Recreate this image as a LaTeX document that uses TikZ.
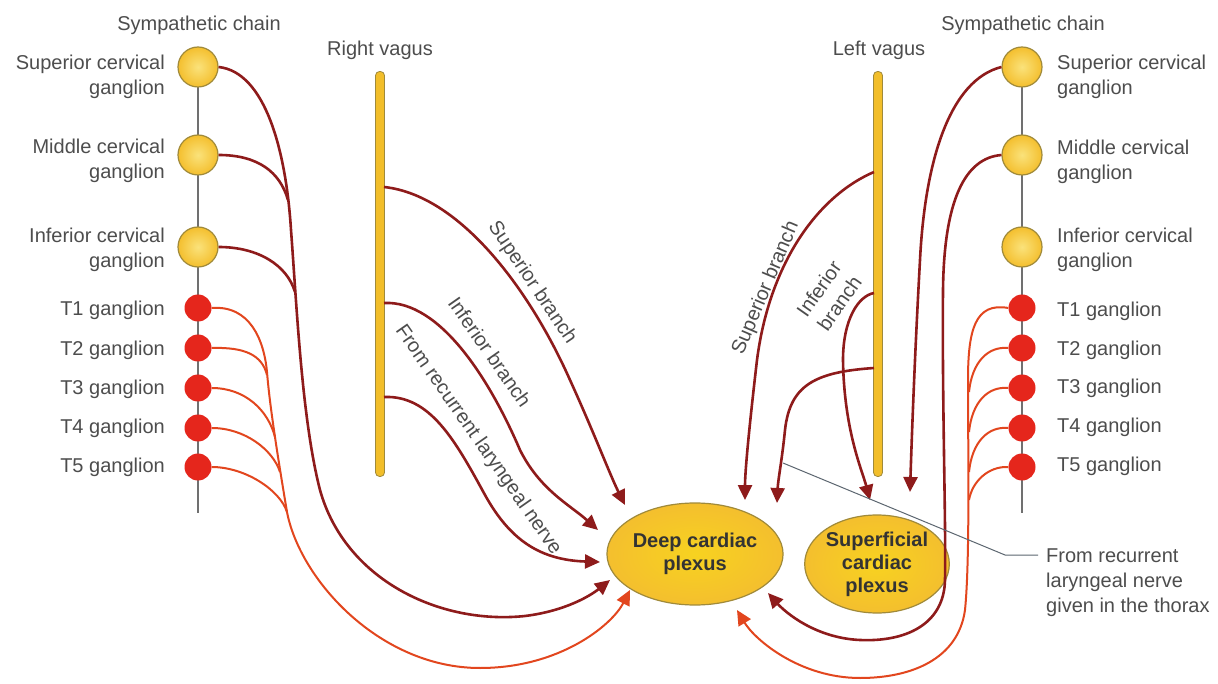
\documentclass[tikz,border=0pt]{standalone}
\usepackage{fontspec}
\setmainfont{Liberation Sans}
\usetikzlibrary{shapes.geometric,arrows.meta}
\definecolor{nerve}{HTML}{8E1B1B}
\definecolor{thnerve}{HTML}{E2461E}
\definecolor{gangfill}{HTML}{F4BF2E}
\definecolor{gangedge}{HTML}{A08A3A}
\definecolor{tgfill}{HTML}{E5261C}
\definecolor{labelgray}{HTML}{4D4D4D}
\definecolor{chaingray}{HTML}{707070}
\definecolor{vagusfill}{HTML}{F2BE2A}
\definecolor{leadergray}{HTML}{5C6670}

\begin{document}
\begin{tikzpicture}[x=1pt, y=-1pt,
  lbl/.style={font=\fontsize{20}{25}\selectfont, text=labelgray, inner sep=0pt},
  cgang/.style={circle, minimum size=40pt, inner sep=0pt, draw=gangedge, line width=1.2pt,
    inner color=yellow!25!gangfill!60!white, outer color=gangfill},
  tgang/.style={circle, minimum size=27pt, inner sep=0pt, fill=tgfill},
  plexus/.style={ellipse, draw=gangedge, line width=1.2pt, inner sep=0pt, align=center,
    inner color=gangfill!70!yellow, outer color=gangfill,
    font=\bfseries\fontsize{20}{23}\selectfont, text=black!80},
  vagus/.style={rectangle, rounded corners=4pt, draw=gangedge, line width=0.8pt,
    fill=vagusfill, minimum width=9pt, minimum height=405pt, inner sep=0pt},
  chain/.style={draw=chaingray, line width=2.5pt},
  nrv/.style={draw=nerve, line width=2.6pt},
  thn/.style={draw=thnerve, line width=2pt},
  arr/.style={-{Triangle[length=15pt,width=14pt]}},
  leader/.style={draw=leadergray, line width=1pt}]
\path[use as bounding box, fill=white] (0,0) rectangle (1218,684);

% chains
\coordinate (lchtop) at (198,67);
\coordinate (lchbot) at (198,513);
\coordinate (rchtop) at (1022,67);
\coordinate (rchbot) at (1022,513);
\draw[chain] (lchtop) -- (lchbot);
\draw[chain] (rchtop) -- (rchbot);

\node[lbl] (lsymp) at (199,25) {Sympathetic chain};
\node[lbl] (rsymp) at (1023,25) {Sympathetic chain};
\node[lbl] (rvag) at (380,50) {Right vagus};
\node[lbl] (lvag) at (879,50) {Left vagus};

% left ganglia
\node[cgang] (lsc) at (198,67) {};
\node[cgang] (lmc) at (198,155) {};
\node[cgang] (lic) at (198,247) {};
\node[tgang] (lt1) at (198,308) {};
\node[tgang] (lt2) at (198,348) {};
\node[tgang] (lt3) at (198,388) {};
\node[tgang] (lt4) at (198,428) {};
\node[tgang] (lt5) at (198,467) {};
\node[lbl, anchor=east, align=right] (lsctxt) at (165,77) {Superior cervical\\ganglion};
\node[lbl, anchor=east, align=right] (lmctxt) at (165,161) {Middle cervical\\ganglion};
\node[lbl, anchor=east, align=right] (lictxt) at (165,250) {Inferior cervical\\ganglion};
\node[lbl, anchor=east] (lt1txt) at (165,310) {T1 ganglion};
\node[lbl, anchor=east] (lt2txt) at (165,350) {T2 ganglion};
\node[lbl, anchor=east] (lt3txt) at (165,389) {T3 ganglion};
\node[lbl, anchor=east] (lt4txt) at (165,428) {T4 ganglion};
\node[lbl, anchor=east] (lt5txt) at (165,467) {T5 ganglion};

% right ganglia
\node[cgang] (rsc) at (1022,67) {};
\node[cgang] (rmc) at (1022,155) {};
\node[cgang] (ric) at (1022,247) {};
\node[tgang] (rt1) at (1022,308) {};
\node[tgang] (rt2) at (1022,348) {};
\node[tgang] (rt3) at (1022,388) {};
\node[tgang] (rt4) at (1022,428) {};
\node[tgang] (rt5) at (1022,467) {};
\node[lbl, anchor=west, align=left] (rsctxt) at (1057,77) {Superior cervical\\ganglion};
\node[lbl, anchor=west, align=left] (rmctxt) at (1057,162) {Middle cervical\\ganglion};
\node[lbl, anchor=west, align=left] (rictxt) at (1057,250) {Inferior cervical\\ganglion};
\node[lbl, anchor=west] (rt1txt) at (1057,311) {T1 ganglion};
\node[lbl, anchor=west] (rt2txt) at (1057,350) {T2 ganglion};
\node[lbl, anchor=west] (rt3txt) at (1057,388) {T3 ganglion};
\node[lbl, anchor=west] (rt4txt) at (1057,427) {T4 ganglion};
\node[lbl, anchor=west] (rt5txt) at (1057,466) {T5 ganglion};

% vagus nerves
\node[vagus] (rvagus) at (380,274) {};
\node[vagus] (lvagus) at (878,274) {};
\coordinate (rv1) at (384,187);
\coordinate (rv2) at (384,303);
\coordinate (rv3) at (384,397);
\coordinate (lv1) at (874,172);
\coordinate (lv2) at (874,293);
\coordinate (lv3) at (874,368);

% plexuses
\node[plexus, minimum width=176pt, minimum height=102pt] (dcp) at (695,554) {Deep cardiac\\plexus};
\node[plexus, minimum width=144pt, minimum height=98pt] (scp) at (877,564) {Superficial\\cardiac\\plexus};
\coordinate (dcpin1) at (625,505);
\coordinate (dcpin2) at (598,530);
\coordinate (dcpin3) at (600,562);
\coordinate (dcpin4) at (610,580);
\coordinate (dcpin5) at (630,590);
\coordinate (dcpin6) at (745,500);
\coordinate (dcpin7) at (777,503);
\coordinate (dcpin8) at (768,593);
\coordinate (dcpin9) at (737,610);
\coordinate (scpin1) at (870,500);
\coordinate (scpin2) at (910,492);

% left cervical
\draw[nrv, arr] (lsc.east) .. controls (265,72) and (286,150) .. (291,230) .. controls (297,310) and (302,420) .. (320,490) .. controls (345,580) and (440,625) .. (525,616) .. controls (565,611) and (590,596) .. (dcpin4);
\draw[nrv] (lmc.east) .. controls (258,155) and (280,172) .. (288,200);
\draw[nrv] (lic.east) .. controls (258,247) and (287,265) .. (295,292);

% left thoracic
\draw[thn, arr] (lt1.east) .. controls (250,305) and (264,340) .. (267,372) .. controls (270,410) and (280,470) .. (287,512) .. controls (300,580) and (380,668) .. (480,668) .. controls (560,668) and (612,625) .. (dcpin5);
\draw[thn] (lt2.east) .. controls (245,347) and (262,355) .. (267,375);
\draw[thn] (lt3.east) .. controls (245,388) and (268,410) .. (275,437);
\draw[thn] (lt4.east) .. controls (245,428) and (273,450) .. (280,472);
\draw[thn] (lt5.east) .. controls (245,467) and (280,490) .. (287,512);

% right vagus
\draw[nrv, arr] (rv1) .. controls (460,195) and (530,290) .. (570,380) .. controls (595,435) and (610,475) .. (dcpin1);
\draw[nrv, arr] (rv2) .. controls (440,300) and (490,380) .. (520,450) .. controls (540,490) and (570,505) .. (dcpin2);
\draw[nrv, arr] (rv3) .. controls (430,395) and (455,440) .. (485,495) .. controls (510,540) and (540,560) .. (dcpin3);
\node[lbl, rotate=-56] (rvsuptxt) at (532,283) {Superior branch};
\node[lbl, rotate=-55] (rvinftxt) at (490,352) {Inferior branch};
\node[lbl, rotate=-55] (rvrectxt) at (478,440) {From recurrent laryngeal nerve};

% left vagus
\draw[nrv, arr] (lv1) .. controls (820,195) and (770,260) .. (757,360) .. controls (750,420) and (745,470) .. (dcpin6);
\draw[nrv, arr] (lv2) .. controls (858,296) and (843,320) .. (843,360) .. controls (844,430) and (862,470) .. (scpin1);
\draw[nrv, arr] (lv3) .. controls (815,372) and (790,385) .. (785,430) .. controls (782,460) and (778,480) .. (dcpin7);
\node[lbl, rotate=67] (lvsuptxt) at (766,288) {Superior branch};
\node[lbl, rotate=55, align=center] (lvinftxt) at (829,296) {Inferior\\branch};

% right cervical
\draw[nrv, arr] (rsc.west) .. controls (950,80) and (925,160) .. (920,260) .. controls (915,350) and (912,430) .. (scpin2);
\draw[nrv, arr] (rmc.west) .. controls (965,158) and (944,200) .. (943,290) .. controls (942,400) and (946,520) .. (945,580) .. controls (944,625) and (905,642) .. (860,640) .. controls (815,638) and (785,612) .. (dcpin8);

% right thoracic
\draw[thn, arr] (rt1.west) .. controls (975,302) and (968,330) .. (968,380) .. controls (968,450) and (970,560) .. (965,610) .. controls (958,660) and (910,678) .. (860,678) .. controls (800,678) and (755,640) .. (dcpin9);
\draw[thn] (rt2.west) .. controls (988,346) and (972,362) .. (969,392);
\draw[thn] (rt3.west) .. controls (988,386) and (972,402) .. (969,432);
\draw[thn] (rt4.west) .. controls (988,426) and (972,442) .. (969,472);
\draw[thn] (rt5.west) .. controls (988,466) and (972,482) .. (969,500);

% leader
\coordinate (ldrstart) at (783,463);
\coordinate (ldrbend) at (1005,555);
\coordinate (ldrend) at (1038,555);
\draw[leader] (ldrstart) -- (ldrbend) -- (ldrend);
\node[lbl, anchor=north west, align=left] (thxtxt) at (1046,549) {From recurrent\\laryngeal nerve\\given in the thorax};
\end{tikzpicture}
\end{document}
